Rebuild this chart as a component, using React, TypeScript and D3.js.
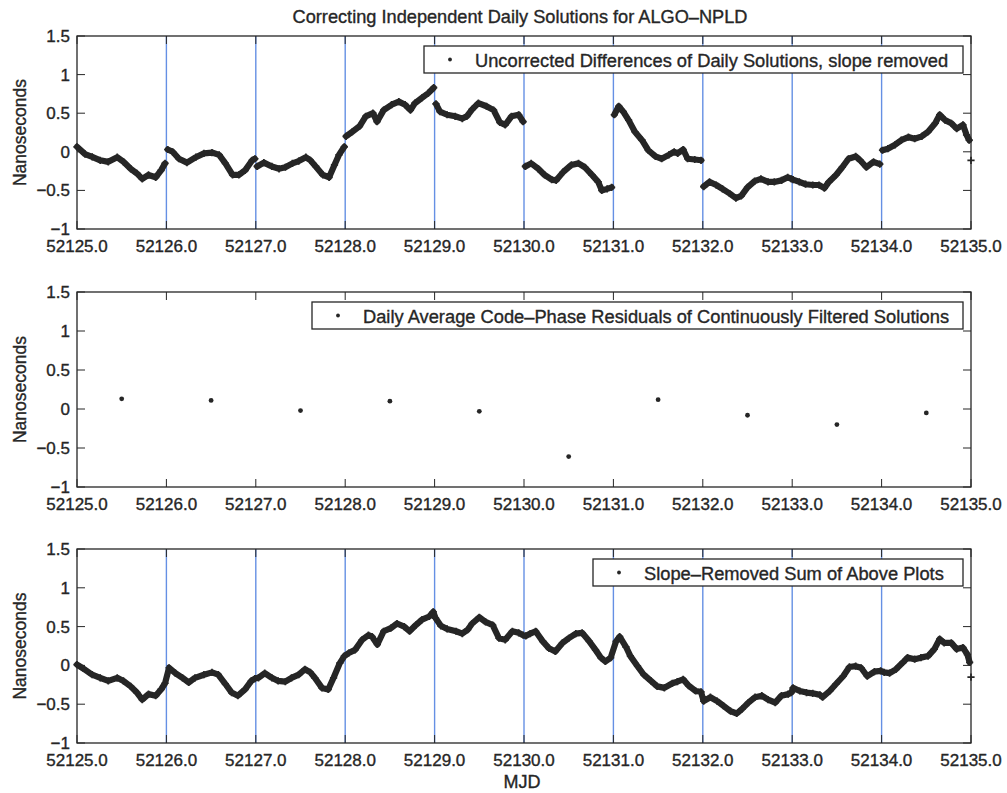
import React from "react";
import * as d3 from "d3";

// ---------- DATA ----------
const MJD_TICKS = [52125, 52126, 52127, 52128, 52129, 52130, 52131, 52132, 52133, 52134, 52135];
const MJD_TICK_LABELS = ["52125.0", "52126.0", "52127.0", "52128.0", "52129.0", "52130.0", "52131.0", "52132.0", "52133.0", "52134.0", "52135.0"];
const NS_TICKS = [-1, -0.5, 0, 0.5, 1, 1.5];
const NS_TICK_LABELS = ["\u22121", "\u22120.5", "0", "0.5", "1", "1.5"];
const DAY_BOUNDARIES = [52126, 52127, 52128, 52129, 52130, 52131, 52132, 52133, 52134];

const TITLE = "Correcting Independent Daily Solutions for ALGO\u2013NPLD";
const LEGEND_1 = "Uncorrected Differences of Daily Solutions, slope removed";
const LEGEND_2 = "Daily Average Code\u2013Phase Residuals of Continuously Filtered Solutions";
const LEGEND_3 = "Slope\u2013Removed Sum of Above Plots";

// Panel 1: uncorrected differences of daily solutions [MJD, ns]
const UNCORRECTED: [number, number][] = [
  [52125.0, 0.065], [52125.09, -0.03], [52125.17, -0.065], [52125.26, -0.11], [52125.35, -0.13],
  [52125.45, -0.07], [52125.52, -0.13], [52125.6, -0.22], [52125.67, -0.28], [52125.73, -0.35],
  [52125.8, -0.3], [52125.88, -0.33], [52125.94, -0.24], [52125.985, -0.15],
  [52126.015, 0.03], [52126.07, 0.0], [52126.14, -0.09], [52126.23, -0.14], [52126.33, -0.07],
  [52126.42, -0.02], [52126.51, -0.01], [52126.59, -0.04], [52126.66, -0.15], [52126.74, -0.3],
  [52126.81, -0.3], [52126.88, -0.24], [52126.96, -0.11], [52126.99, -0.09],
  [52127.015, -0.19], [52127.09, -0.14], [52127.18, -0.19], [52127.26, -0.22], [52127.33, -0.2],
  [52127.41, -0.15], [52127.48, -0.12], [52127.56, -0.07], [52127.61, -0.11], [52127.67, -0.19],
  [52127.75, -0.3], [52127.82, -0.33], [52127.88, -0.17], [52127.93, -0.04], [52127.99, 0.065],
  [52128.01, 0.2], [52128.08, 0.26], [52128.16, 0.33], [52128.23, 0.46], [52128.31, 0.5],
  [52128.356, 0.39], [52128.43, 0.54], [52128.52, 0.61], [52128.6, 0.65], [52128.67, 0.61],
  [52128.73, 0.54], [52128.78, 0.63], [52128.86, 0.7], [52128.93, 0.76], [52128.99, 0.83],
  [52129.015, 0.62], [52129.06, 0.52], [52129.14, 0.48], [52129.23, 0.46], [52129.31, 0.43],
  [52129.36, 0.46], [52129.42, 0.55], [52129.49, 0.63], [52129.58, 0.59], [52129.66, 0.54],
  [52129.73, 0.38], [52129.79, 0.35], [52129.86, 0.46], [52129.94, 0.48], [52129.99, 0.39],
  [52130.015, -0.19], [52130.08, -0.15], [52130.16, -0.22], [52130.23, -0.3], [52130.31, -0.36],
  [52130.36, -0.37], [52130.44, -0.26], [52130.53, -0.17], [52130.61, -0.15], [52130.68, -0.2],
  [52130.76, -0.3], [52130.83, -0.39], [52130.87, -0.5], [52130.93, -0.48], [52130.98, -0.46],
  [52131.01, 0.48], [52131.06, 0.59], [52131.11, 0.52], [52131.17, 0.41], [52131.24, 0.26],
  [52131.32, 0.15], [52131.39, 0.02], [52131.47, -0.06], [52131.54, -0.09], [52131.62, -0.04],
  [52131.68, 0.0], [52131.72, -0.02], [52131.78, 0.03], [52131.83, -0.09], [52131.91, -0.1],
  [52131.98, -0.11],
  [52132.01, -0.45], [52132.075, -0.39], [52132.15, -0.43], [52132.22, -0.48], [52132.3, -0.54],
  [52132.37, -0.6], [52132.43, -0.57], [52132.5, -0.46], [52132.58, -0.38], [52132.65, -0.35],
  [52132.73, -0.39], [52132.8, -0.39], [52132.88, -0.37], [52132.95, -0.33], [52132.99, -0.35],
  [52133.01, -0.36], [52133.08, -0.39], [52133.15, -0.42], [52133.23, -0.43], [52133.3, -0.43],
  [52133.36, -0.47], [52133.41, -0.39], [52133.49, -0.3], [52133.56, -0.2], [52133.63, -0.09],
  [52133.71, -0.06], [52133.76, -0.11], [52133.83, -0.2], [52133.91, -0.13], [52133.98, -0.16],
  [52134.01, 0.02], [52134.07, 0.04], [52134.15, 0.09], [52134.22, 0.15], [52134.3, 0.19],
  [52134.37, 0.17], [52134.45, 0.2], [52134.52, 0.26], [52134.6, 0.37], [52134.65, 0.48],
  [52134.71, 0.41], [52134.78, 0.37], [52134.84, 0.3], [52134.91, 0.35], [52134.95, 0.22],
  [52134.98, 0.15],
  [52135.0, -0.11],
];

// Panel 2: daily average code-phase residuals
const DAILY_AVG_MJD = [52125.5, 52126.5, 52127.5, 52128.5, 52129.5, 52130.5, 52131.5, 52132.5, 52133.5, 52134.5];
const DAILY_AVG_NS = [0.13, 0.11, -0.02, 0.1, -0.03, -0.61, 0.12, -0.08, -0.2, -0.05];

// Panel 3: slope-removed sum [MJD, ns]
const SUM_SERIES: [number, number][] = [
  [52125.0, 0.01], [52125.07, -0.04], [52125.17, -0.12], [52125.26, -0.16], [52125.35, -0.2],
  [52125.45, -0.16], [52125.52, -0.2], [52125.6, -0.27], [52125.67, -0.35], [52125.73, -0.44],
  [52125.8, -0.37], [52125.88, -0.39], [52125.94, -0.31], [52125.985, -0.23],
  [52126.03, -0.03], [52126.1, -0.1], [52126.18, -0.16], [52126.25, -0.22], [52126.32, -0.16],
  [52126.42, -0.12], [52126.51, -0.09], [52126.58, -0.12], [52126.66, -0.24], [52126.73, -0.35],
  [52126.8, -0.39], [52126.88, -0.31], [52126.95, -0.2], [52126.99, -0.17],
  [52127.03, -0.16], [52127.1, -0.1], [52127.18, -0.16], [52127.25, -0.2], [52127.33, -0.21],
  [52127.4, -0.16], [52127.48, -0.12], [52127.55, -0.05], [52127.61, -0.09], [52127.66, -0.16],
  [52127.74, -0.29], [52127.81, -0.31], [52127.87, -0.16], [52127.94, 0.03], [52127.99, 0.12],
  [52128.04, 0.16], [52128.11, 0.2], [52128.19, 0.33], [52128.26, 0.39], [52128.3, 0.37],
  [52128.36, 0.27], [52128.43, 0.44], [52128.51, 0.48], [52128.58, 0.54], [52128.66, 0.5],
  [52128.72, 0.44], [52128.79, 0.52], [52128.86, 0.59], [52128.94, 0.63], [52128.985, 0.69],
  [52129.01, 0.61], [52129.07, 0.51], [52129.14, 0.47], [52129.24, 0.44], [52129.31, 0.41],
  [52129.37, 0.46], [52129.42, 0.54], [52129.5, 0.62], [52129.57, 0.56], [52129.65, 0.52],
  [52129.72, 0.35], [52129.79, 0.33], [52129.87, 0.44], [52129.94, 0.42], [52129.99, 0.39],
  [52130.02, 0.38], [52130.07, 0.41], [52130.13, 0.44], [52130.21, 0.31], [52130.28, 0.22],
  [52130.35, 0.18], [52130.43, 0.29], [52130.5, 0.35], [52130.58, 0.41], [52130.65, 0.42],
  [52130.73, 0.31], [52130.8, 0.2], [52130.86, 0.1], [52130.91, 0.05], [52130.97, 0.1],
  [52131.03, 0.31], [52131.07, 0.37], [52131.14, 0.24], [52131.19, 0.12], [52131.27, -0.01],
  [52131.34, -0.12], [52131.42, -0.2], [52131.49, -0.27], [52131.57, -0.29], [52131.66, -0.23],
  [52131.715, -0.21], [52131.78, -0.18], [52131.84, -0.26], [52131.92, -0.33], [52131.98, -0.34],
  [52132.01, -0.46], [52132.085, -0.41], [52132.16, -0.46], [52132.23, -0.52], [52132.31, -0.59],
  [52132.38, -0.62], [52132.44, -0.56], [52132.51, -0.48], [52132.585, -0.41], [52132.66, -0.39],
  [52132.73, -0.44], [52132.81, -0.48], [52132.88, -0.39], [52132.955, -0.37], [52132.99, -0.35],
  [52133.01, -0.29], [52133.085, -0.33], [52133.16, -0.35], [52133.23, -0.36], [52133.31, -0.38],
  [52133.34, -0.41], [52133.42, -0.33], [52133.49, -0.24], [52133.57, -0.14], [52133.64, -0.02],
  [52133.71, -0.01], [52133.77, -0.03], [52133.84, -0.14], [52133.92, -0.08], [52133.99, -0.07],
  [52134.03, -0.09], [52134.09, -0.1], [52134.16, -0.05], [52134.24, 0.04], [52134.29, 0.1],
  [52134.37, 0.08], [52134.44, 0.1], [52134.52, 0.12], [52134.59, 0.21], [52134.65, 0.34],
  [52134.7, 0.29], [52134.78, 0.29], [52134.84, 0.21], [52134.91, 0.23], [52134.96, 0.14],
  [52134.985, 0.04],
  [52135.0, -0.15],
];

// ---------- LAYOUT ----------
const W = 1007;
const H = 793;
const LEFT = 77;
const RIGHT = 971;
const PANELS = [
  { top: 36, bottom: 229 },
  { top: 292, bottom: 487 },
  { top: 549, bottom: 743 },
];
const FONT = "'Liberation Sans', Arial, Helvetica, sans-serif";
const INK = "#262626";
const BLUE = "#6590e4";
const TICK = 8;
const TEXT_STROKE = 0.35;

const x = d3.scaleLinear().domain([52125, 52135]).range([LEFT, RIGHT]);

function Label(props: any) {
  return <text fontFamily={FONT} fill={INK} stroke={INK} strokeWidth={TEXT_STROKE} {...props} />;
}

function Frame({ top, bottom, blue }: { top: number; bottom: number; blue: boolean }) {
  const y = d3.scaleLinear().domain([-1, 1.5]).range([bottom, top]);
  return (
    <g>
      {blue &&
        DAY_BOUNDARIES.map((d) => (
          <line key={"b" + d} x1={x(d)} x2={x(d)} y1={top} y2={bottom} stroke={BLUE} strokeWidth={1.4} />
        ))}
      {MJD_TICKS.map((d, i) => (
        <g key={"xt" + d}>
          <line x1={x(d)} x2={x(d)} y1={bottom} y2={bottom - TICK} stroke={INK} strokeWidth={1} />
          <line x1={x(d)} x2={x(d)} y1={top} y2={top + TICK} stroke={INK} strokeWidth={1} />
          <Label x={x(d)} y={bottom + 23} textAnchor="middle" fontSize={17}>
            {MJD_TICK_LABELS[i]}
          </Label>
        </g>
      ))}
      {NS_TICKS.map((v, i) => (
        <g key={"yt" + v}>
          <line x1={LEFT} x2={LEFT + TICK} y1={y(v)} y2={y(v)} stroke={INK} strokeWidth={1} />
          <line x1={RIGHT} x2={RIGHT - TICK} y1={y(v)} y2={y(v)} stroke={INK} strokeWidth={1} />
          <Label x={70} y={y(v) + 6} textAnchor="end" fontSize={17}>
            {NS_TICK_LABELS[i]}
          </Label>
        </g>
      ))}
      <Label transform={`translate(26,${(top + bottom) / 2}) rotate(-90)`} textAnchor="middle" fontSize={17.5}>
        Nanoseconds
      </Label>
    </g>
  );
}

function Border({ top, bottom }: { top: number; bottom: number }) {
  return (
    <rect x={LEFT} y={top} width={RIGHT - LEFT} height={bottom - top} fill="none" stroke={INK} strokeWidth={1.3} />
  );
}

function Legend({ x0, top, text }: { x0: number; top: number; text: string }) {
  const x1 = 963;
  const h = 27;
  return (
    <g>
      <rect x={x0} y={top} width={x1 - x0} height={h} fill="#fff" stroke={INK} strokeWidth={1.3} />
      <circle cx={x0 + 26} cy={top + h / 2} r={1.9} fill={INK} />
      <Label x={x0 + 51} y={top + h / 2 + 7} fontSize={18.3}>
        {text}
      </Label>
    </g>
  );
}

function Band({ data, top, bottom, splitDays }: { data: [number, number][]; top: number; bottom: number; splitDays: boolean }) {
  const y = d3.scaleLinear().domain([-1, 1.5]).range([bottom, top]);
  const line = d3
    .line<[number, number]>()
    .x((d) => x(d[0]))
    .y((d) => y(d[1]));
  const groups = splitDays
    ? d3.groups(data, (d) => Math.floor(d[0] + 1e-9)).map((g) => g[1])
    : [data.slice(0, -1), data.slice(-1)];
  return (
    <g>
      {groups.map((g, i) =>
        g.length > 1 ? (
          <path key={i} d={line(g) || ""} fill="none" stroke={INK} strokeWidth={6.2} strokeLinejoin="round" strokeLinecap="round" />
        ) : null
      )}
      {data.map((d, i) => {
        const cx = x(d[0]);
        const cy = y(d[1]);
        return (
          <path
            key={"m" + i}
            d={`M${cx - 3.6},${cy}h7.2M${cx},${cy - 3.6}v7.2`}
            stroke={INK}
            strokeWidth={1.7}
          />
        );
      })}
    </g>
  );
}

function Dots({ xs, vs, top, bottom }: { xs: number[]; vs: number[]; top: number; bottom: number }) {
  const y = d3.scaleLinear().domain([-1, 1.5]).range([bottom, top]);
  return (
    <g>
      {xs.map((m, i) => (
        <circle key={m} cx={x(m)} cy={y(vs[i])} r={2.4} fill={INK} />
      ))}
    </g>
  );
}

export default function App() {
  const [p1, p2, p3] = PANELS;
  return (
    <svg
      width={W}
      height={H}
      viewBox={`0 0 ${W} ${H}`}
      style={{ position: "absolute", left: 0, top: 0, background: "#fff" }}
    >
      <rect x={0} y={0} width={W} height={H} fill="#fff" />
      <Label x={520} y={23} textAnchor="middle" fontSize={18.2}>
        {TITLE}
      </Label>

      <Frame top={p1.top} bottom={p1.bottom} blue={true} />
      <Band data={UNCORRECTED} top={p1.top} bottom={p1.bottom} splitDays={true} />
      <Border top={p1.top} bottom={p1.bottom} />
      <Legend x0={424} top={46} text={LEGEND_1} />

      <Frame top={p2.top} bottom={p2.bottom} blue={false} />
      <Dots xs={DAILY_AVG_MJD} vs={DAILY_AVG_NS} top={p2.top} bottom={p2.bottom} />
      <Border top={p2.top} bottom={p2.bottom} />
      <Legend x0={312} top={302} text={LEGEND_2} />

      <Frame top={p3.top} bottom={p3.bottom} blue={true} />
      <Band data={SUM_SERIES} top={p3.top} bottom={p3.bottom} splitDays={false} />
      <Border top={p3.top} bottom={p3.bottom} />
      <Legend x0={593} top={559} text={LEGEND_3} />

      <Label x={522} y={788} textAnchor="middle" fontSize={18}>
        MJD
      </Label>
    </svg>
  );
}
